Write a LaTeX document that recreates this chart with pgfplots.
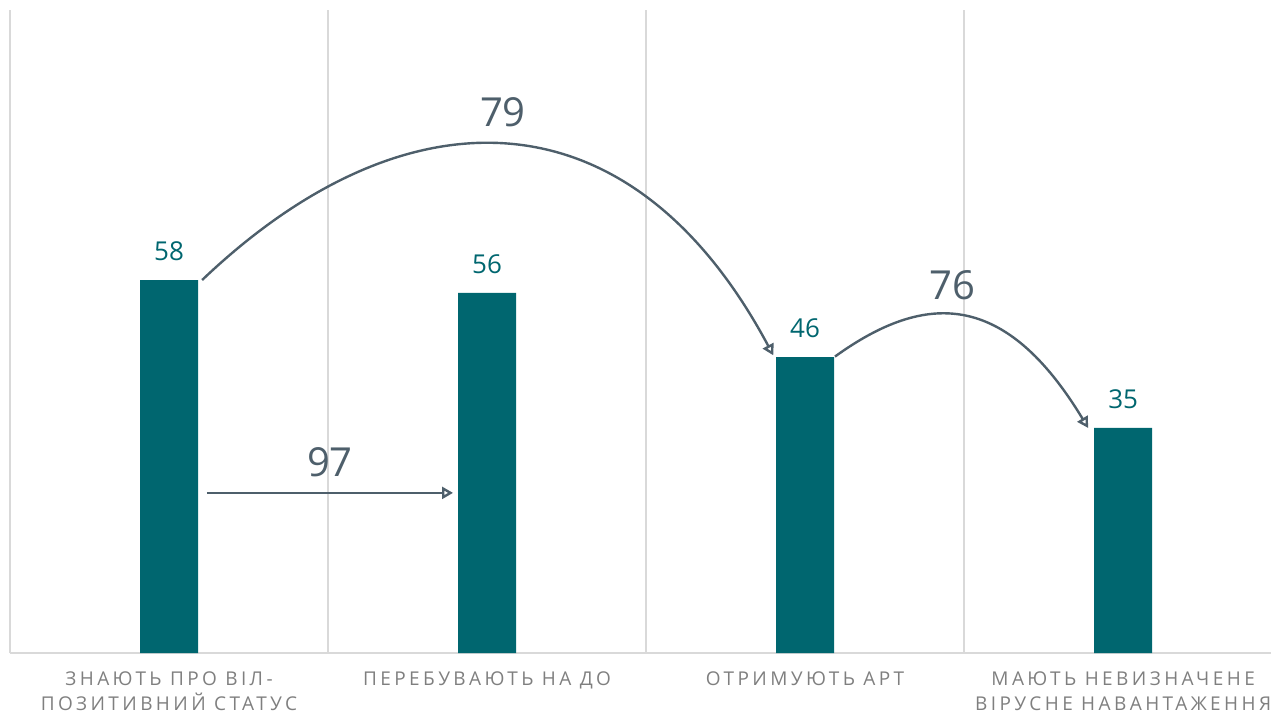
\documentclass[border=0pt]{standalone}
\usepackage{pgfplots}
\pgfplotsset{compat=1.18}
\usepackage{fontspec}
\setmainfont{Open Sans}
\newfontfamily\labelfont[LetterSpace=18]{Open Sans}
\usetikzlibrary{arrows.meta}
\definecolor{barteal}{HTML}{00666F}
\definecolor{gridgray}{HTML}{D9D9D9}
\definecolor{labgray}{HTML}{7F7F7F}
\definecolor{arrowc}{HTML}{4E5F6B}
\begin{document}
\begin{tikzpicture}
\begin{axis}[
  scale only axis, width=630.5pt, height=321.5pt,
  xmin=-0.5, xmax=3.465, ymin=0, ymax=100,
  /pgf/number format/assume math mode=true,
  axis x line=bottom, axis y line=none, ytick=\empty,
  x axis line style={-, draw=gridgray, line width=1pt},
  xtick={0,1,2,3},
  xticklabels={{ЗНАЮТЬ ПРО ВІЛ-\\ПОЗИТИВНИЙ СТАТУС},{ПЕРЕБУВАЮТЬ НА ДО},{ОТРИМУЮТЬ АРТ},{МАЮТЬ НЕВИЗНАЧЕНЕ\\ВІРУСНЕ НАВАНТАЖЕННЯ}},
  major tick length=0pt,
  extra x ticks={-0.5,0.5,1.5,2.5},
  extra x tick labels={},
  extra x tick style={grid=major, major grid style={draw=gridgray, line width=1pt}},
  xticklabel style={font=\labelfont\fontsize{9.5}{12.3}\selectfont, text=labgray, align=center, anchor=north, inner sep=0pt, yshift=-9.3pt},
  ybar, bar width=29pt,
  nodes near coords,
  every node near coord/.append style={font=\fontsize{13}{15}\selectfont, text=barteal, anchor=south, inner sep=0pt, yshift=9.5pt},
  clip=false,
]
\addplot[fill=barteal, draw=none] coordinates {(0,58) (1,56) (2,46) (3,35)};

\draw[arrowc, line width=1.2pt, -{Triangle[open, length=5.5pt, width=6pt]}] (axis cs:0.119,24.9) -- (axis cs:0.893,24.9);
\node[text=arrowc, inner sep=0pt, font=\fontsize{20}{22}\selectfont] at (axis cs:0.506,29.6) {97};
\draw[arrowc, line width=1.2pt, -{Triangle[open, length=5.5pt, width=6pt]}] (axis cs:0.104,58) .. controls (axis cs:0.74,88.0) and (axis cs:1.45,88.0) .. (axis cs:1.90,46.3);
\node[text=arrowc, inner sep=0pt, font=\fontsize{20}{22}\selectfont] at (axis cs:1.05,84.1) {79};
\draw[arrowc, line width=1.2pt, -{Triangle[open, length=5.5pt, width=6pt]}] (axis cs:2.094,46.1) .. controls (axis cs:2.38,56.3) and (axis cs:2.63,56.3) .. (axis cs:2.890,35.0);
\node[text=arrowc, inner sep=0pt, font=\fontsize{20}{22}\selectfont] at (axis cs:2.462,57.2) {76};
\end{axis}
\pgfresetboundingbox
\path[use as bounding box] (-5pt,-30pt) rectangle (630.5pt,326.5pt);
\end{tikzpicture}
\end{document}
